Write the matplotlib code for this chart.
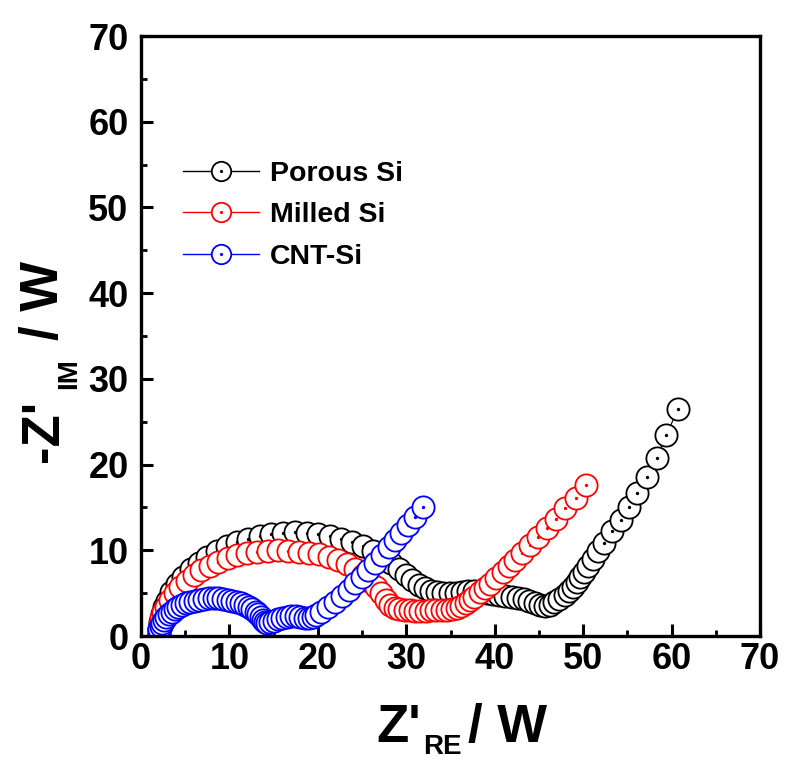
import matplotlib
matplotlib.use("Agg")
import matplotlib.pyplot as plt
from matplotlib.path import Path
from matplotlib.lines import Line2D
from matplotlib.ticker import MultipleLocator

# ---------------- data ----------------
porous_x = [2.0, 2.04, 2.15, 2.34, 2.60, 2.93, 3.44, 4.06, 4.78, 5.60, 6.51, 7.50, 8.57, 9.70,
            10.89, 12.13, 13.41, 14.73, 16.06, 17.40, 18.74, 20.07, 21.39, 22.67, 23.91, 25.10,
            26.23, 27.30, 28.29, 29.20, 30.0, 30.7, 31.4, 32.1, 32.8, 33.5, 34.2, 34.9, 35.6,
            36.3, 37.0, 37.7, 38.4, 39.1, 39.8, 40.5, 41.2, 41.9, 42.6, 43.3, 43.9, 44.5, 45.1,
            45.7, 46.2, 46.7, 47.3, 47.9, 48.4, 48.9, 49.3, 49.7, 50.1, 50.6, 51.1, 51.7, 52.4,
            53.3, 54.3, 55.2, 56.1, 57.2, 58.3, 59.4, 60.7]
porous_y = [0.0, 0.84, 1.68, 2.52, 3.33, 4.14, 5.11, 6.05, 6.94, 7.78, 8.56, 9.27, 9.91, 10.48,
            10.97, 11.37, 11.69, 11.92, 12.05, 12.10, 12.05, 11.92, 11.69, 11.37, 10.97, 10.48,
            9.91, 9.27, 8.56, 7.78, 7.1, 6.5, 6.0, 5.6, 5.3, 5.1, 5.0, 5.0, 5.05,
            5.15, 5.2, 5.2, 5.15, 5.05, 4.95, 4.8, 4.7, 4.6, 4.45, 4.3, 4.1, 3.9, 3.65,
            3.45, 3.6, 3.95, 4.3, 4.75, 5.2, 5.75, 6.3, 6.9, 7.5, 8.2, 9.0, 9.9, 10.9,
            12.2, 13.5, 15.1, 16.7, 18.6, 20.8, 23.4, 26.45]

milled_x = [2.0, 2.03, 2.13, 2.29, 2.52, 2.81, 3.27, 3.81, 4.44, 5.16, 5.95, 6.82, 7.76, 8.75,
            9.80, 10.88, 12.01, 13.16, 14.32, 15.50, 16.68, 17.84, 18.99, 20.12, 21.21, 22.25,
            23.24, 24.18, 25.05, 25.84, 26.56, 27.19, 27.74, 28.2, 28.7, 29.2, 29.8, 30.4, 31.0,
            31.6, 32.2, 32.8, 33.4, 34.0, 34.6, 35.2, 35.7, 36.2, 36.7, 37.2, 37.7, 38.3, 38.9,
            39.5, 40.2, 40.9, 41.6, 42.3, 43.1, 44.0, 44.9, 45.9, 46.9, 48.0, 49.2, 50.3]
milled_y = [0.0, 0.70, 1.39, 2.08, 2.76, 3.42, 4.23, 5.00, 5.74, 6.43, 7.07, 7.66, 8.19, 8.66,
            9.06, 9.40, 9.66, 9.85, 9.96, 10.00, 9.96, 9.85, 9.70, 9.55, 9.25, 8.85,
            8.35, 7.80, 7.15, 6.45, 5.74, 5.00, 4.23, 3.65, 3.3, 3.15, 3.05, 3.0, 2.95,
            2.95, 2.95, 3.0, 3.0, 3.0, 3.05, 3.15, 3.3, 3.55, 3.85, 4.2, 4.6, 5.1, 5.6,
            6.1, 6.8, 7.5, 8.2, 8.9, 9.7, 10.6, 11.6, 12.6, 13.6, 14.9, 16.1, 17.6]

cnt_x = [2.0, 2.02, 2.09, 2.21, 2.37, 2.58, 2.83, 3.12, 3.45, 3.82, 4.21, 4.64, 5.10, 5.58,
         6.08, 6.60, 7.12, 7.66, 8.20, 8.74, 9.28, 9.80, 10.32, 10.82, 11.30, 11.76, 12.19,
         12.58, 12.95, 13.28, 13.57, 13.8, 14.0, 14.2, 14.6, 15.0, 15.5, 16.0, 16.5, 17.0,
         17.5, 18.0, 18.5, 19.0, 19.4, 19.8, 20.4, 21.1, 21.9, 22.7, 23.5, 24.2, 25.0, 25.7,
         26.5, 27.2, 28.0, 28.7, 29.4, 30.2, 31.0, 31.9]
cnt_y = [0.0, 0.38, 0.76, 1.14, 1.50, 1.86, 2.20, 2.52, 2.83, 3.11, 3.37, 3.60, 3.81, 3.99,
         4.13, 4.25, 4.33, 4.38, 4.40, 4.38, 4.33, 4.25, 4.13, 3.99, 3.81, 3.60, 3.37,
         3.11, 2.83, 2.52, 2.20, 1.9, 1.65, 1.5, 1.6, 1.8, 2.0, 2.15, 2.25, 2.3,
         2.3, 2.25, 2.15, 2.1, 2.2, 2.45, 2.85, 3.4, 4.0, 4.65, 5.4, 6.15, 6.9, 7.7,
         8.5, 9.4, 10.35, 11.2, 12.0, 12.95, 13.9, 15.0]

series_labels = ["Porous Si", "Milled Si", "CNT-Si"]
series_colors = ["black", "red", "blue"]
tick_values = [0, 10, 20, 30, 40, 50, 60, 70]

# ---------------- style ----------------
plt.rcParams['font.family'] = ['Liberation Sans', 'DejaVu Sans']
plt.rcParams['font.weight'] = 'bold'

fig = plt.figure(figsize=(7.85, 7.6), dpi=100)
ax = fig.add_axes([141 / 785, 124 / 760, 619 / 785, 600 / 760])

# hollow circle with a dot at its centre
marker_path = Path.make_compound_path(Path.unit_circle(), Path.circle((0, 0), 0.07))

data = [(porous_x, porous_y), (milled_x, milled_y), (cnt_x, cnt_y)]
for (xs, ys), c in zip(data, series_colors):
    ax.plot(xs, ys, color=c, lw=0.8, marker=marker_path, ms=16,
            mfc='white', mec=c, mew=1.3)

ax.set_xlim(0, 70)
ax.set_ylim(0, 70)
ax.set_xticks(tick_values)
ax.set_yticks(tick_values)
ax.xaxis.set_minor_locator(MultipleLocator(5))
ax.yaxis.set_minor_locator(MultipleLocator(5))
for s in ax.spines.values():
    s.set_linewidth(2.4)
ax.tick_params(which='major', direction='in', length=8.5, width=2.2,
               labelsize=26, bottom=True, left=True, top=False, right=False)
ax.tick_params(which='minor', direction='in', length=4.5, width=2.0,
               bottom=True, left=True, top=False, right=False)
ax.tick_params(axis='x', which='major', pad=4)
ax.tick_params(axis='y', which='major', pad=9)
for lab in ax.get_xticklabels() + ax.get_yticklabels():
    lab.set_fontweight('bold')

# legend
handles = [Line2D([], [], color=c, lw=1.0, marker=marker_path, ms=14,
                  mfc='white', mec=c, mew=1.3) for c in series_colors]
ax.legend(handles, series_labels, loc='upper left', bbox_to_anchor=(0.068, 0.792),
          frameon=False, prop={'size': 20.5, 'weight': 'bold'}, handlelength=2.65,
          handletextpad=0.4, labelspacing=0.55, borderpad=0, borderaxespad=0)

# x label: Z'_RE / W
x1 = fig.text(376 / 785, (760 - 742) / 760, "Z'", fontsize=38, fontweight='bold',
              ha='left', va='baseline')
x2 = ax.annotate("RE", xy=(1, 0), xycoords=x1, xytext=(2, -5),
                 textcoords='offset points', fontsize=20, fontweight='bold',
                 ha='left', va='bottom', annotation_clip=False)
x3 = ax.annotate("/ W", xy=(1, 0), xycoords=(x2, x1), xytext=(4, 0),
                 textcoords='offset points', fontsize=38, fontweight='bold',
                 ha='left', va='bottom', annotation_clip=False)

# y label: -Z'_IM / W
y1 = fig.text(58 / 785, (760 - 462) / 760, "-Z'", fontsize=38, fontweight='bold',
              rotation=90, rotation_mode='anchor', ha='left', va='baseline')
y2 = ax.annotate("IM", xy=(1, 1), xycoords=y1, xytext=(5.3, 8),
                 textcoords='offset points', fontsize=20, fontweight='bold',
                 rotation=90, rotation_mode='anchor', ha='left', va='baseline',
                 annotation_clip=False)
y3 = ax.annotate("/ W", xy=(1, 1), xycoords=(y1, y2), xytext=(0, 13),
                 textcoords='offset points', fontsize=38, fontweight='bold',
                 rotation=90, ha='right', va='bottom', annotation_clip=False)

fig.savefig("out.png", dpi=100)
